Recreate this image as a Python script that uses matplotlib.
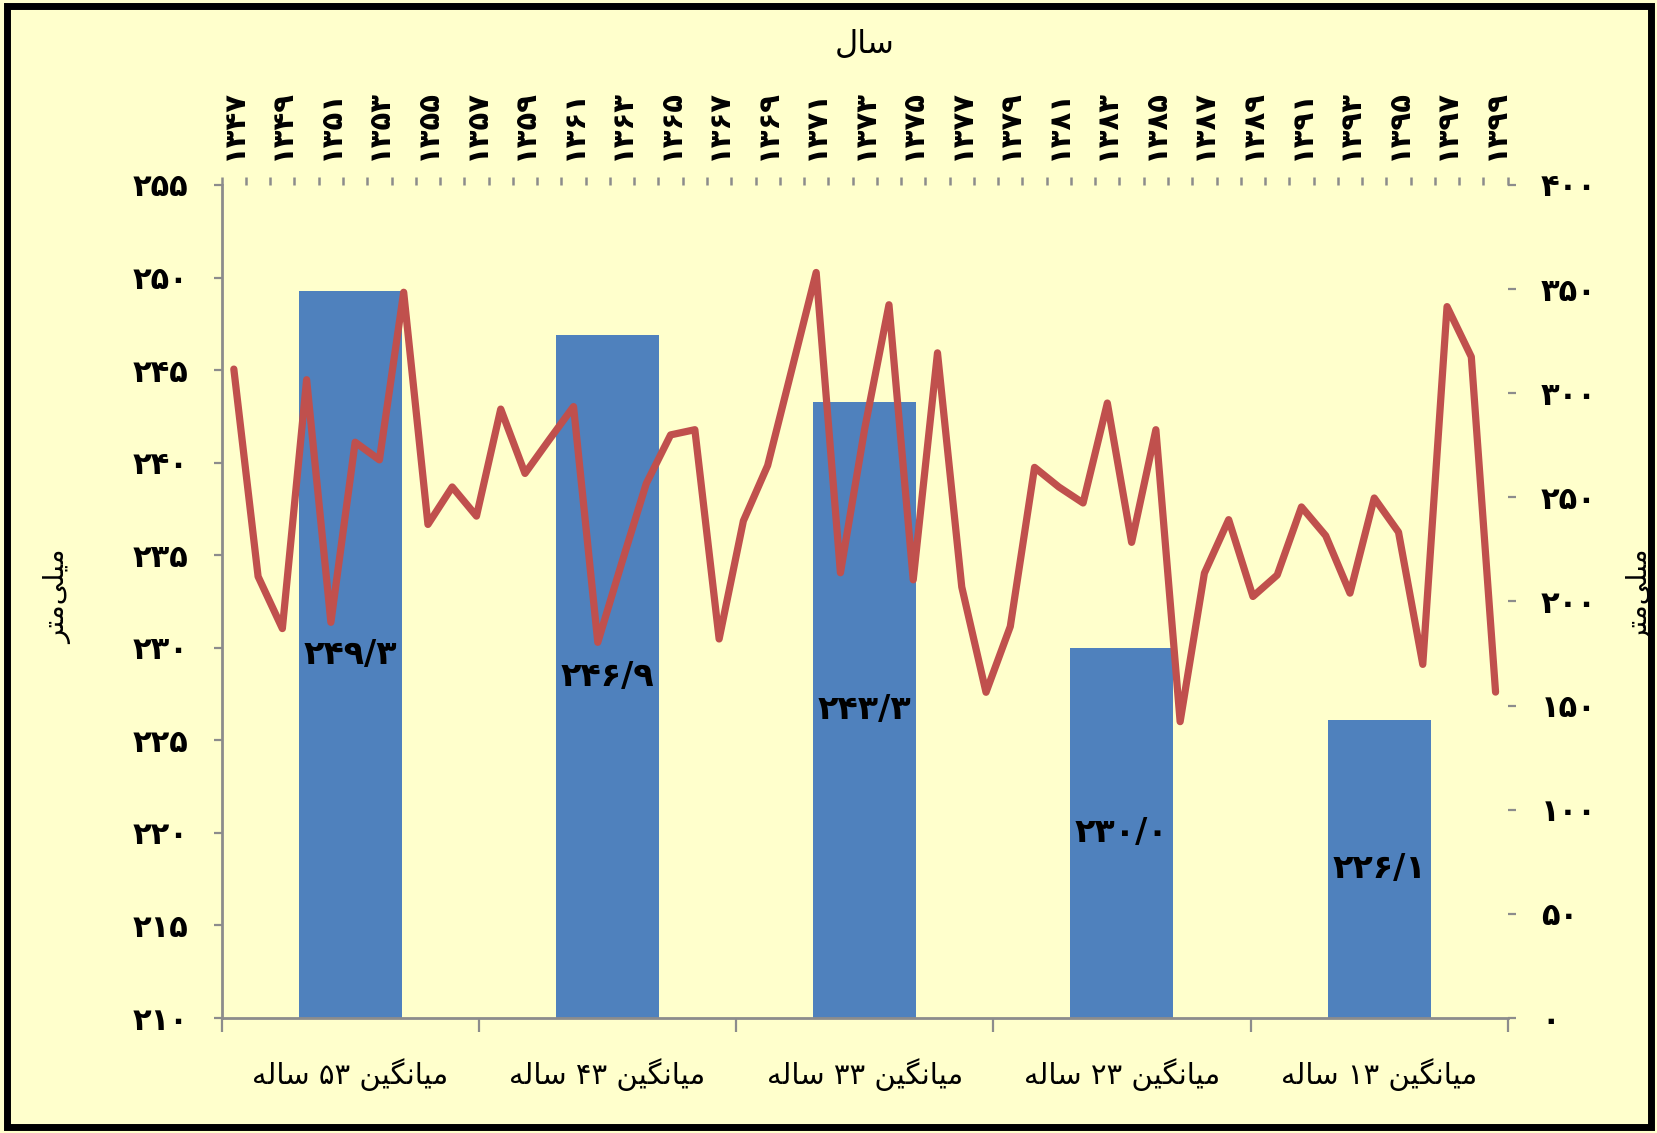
import re
import matplotlib
matplotlib.use("Agg")
import matplotlib.pyplot as plt
from matplotlib.patches import Rectangle
import matplotlib.transforms as mtrans

# ---------------- data ----------------
categories = ["میانگین ۵۳ ساله", "میانگین ۴۳ ساله", "میانگین ۳۳ ساله",
              "میانگین ۲۳ ساله", "میانگین ۱۳ ساله"]
bar_values = [249.3, 246.9, 243.3, 230.0, 226.1]

years = list(range(1347, 1400))
rainfall = [311.6, 212.0, 187.0, 306.5, 190.0, 276.5, 268.0, 348.5, 237.0, 255.0,
            241.0, 292.4, 261.5, 277.7, 293.6, 180.4, 219.0, 256.7, 280.0, 282.5,
            182.0, 238.7, 265.3, 311.6, 358.0, 213.8, 283.0, 342.5, 210.4, 319.4,
            207.0, 156.4, 188.0, 264.4, 255.0, 247.3, 295.3, 228.4, 282.5, 142.3,
            213.6, 239.3, 202.4, 212.7, 245.4, 231.6, 204.0, 249.7, 233.3, 169.8,
            341.6, 317.5, 156.5]

left_ticks = list(range(210, 256, 5))
right_ticks = list(range(0, 401, 50))
title_text = "سال"
unit_text = "میلی\u200cمتر"

# ---------------- Persian helpers ----------------
FA_DIGITS = str.maketrans("0123456789.", "۰۱۲۳۴۵۶۷۸۹/")

FORMS = {
    'ا': ('\uFE8D', '\uFE8E', None, None),
    'ر': ('\uFEAD', '\uFEAE', None, None),
    'ت': ('\uFE95', '\uFE96', '\uFE97', '\uFE98'),
    'س': ('\uFEB1', '\uFEB2', '\uFEB3', '\uFEB4'),
    'ل': ('\uFEDD', '\uFEDE', '\uFEDF', '\uFEE0'),
    'م': ('\uFEE1', '\uFEE2', '\uFEE3', '\uFEE4'),
    'ن': ('\uFEE5', '\uFEE6', '\uFEE7', '\uFEE8'),
    'ه': ('\uFEE9', '\uFEEA', '\uFEEB', '\uFEEC'),
    'گ': ('\uFB92', '\uFB93', '\uFB94', '\uFB95'),
    'ی': ('\uFBFC', '\uFBFD', '\uFBFE', '\uFBFF'),
}


def _dual(c):
    return c in FORMS and FORMS[c][2] is not None


def shape(s):
    out = []
    for i, c in enumerate(s):
        if c not in FORMS:
            out.append(c)
            continue
        prev = s[i - 1] if i > 0 else ''
        nxt = s[i + 1] if i + 1 < len(s) else ''
        jp = _dual(prev)
        jn = _dual(c) and (nxt in FORMS)
        iso, fin, ini, med = FORMS[c]
        out.append(med if (jp and jn) else fin if jp else ini if jn else iso)
    return ''.join(out).replace('\u200c', '')


def fa(s):
    s = shape(s)
    tokens = re.findall(r'[۰-۹0-9/]+|[^۰-۹0-9/]+', s)[::-1]
    return ''.join(t if re.match(r'[۰-۹0-9]', t) else t[::-1] for t in tokens)


def fnum(v):
    return str(v).translate(FA_DIGITS)


# ---------------- style ----------------
BG = '#FFFFCC'
BAR = '#4F81BD'
LINE = '#C0504D'
AXC = '#8C8C8C'
plt.rcParams['font.family'] = ['DejaVu Sans']

W, H = 1658, 1133
fig = plt.figure(figsize=(W / 100, H / 100), dpi=100, facecolor=BG)

x0, x1, y0, y1 = 221.7, 1507.7, 185, 1018
rect = [x0 / W, 1 - y1 / H, (x1 - x0) / W, (y1 - y0) / H]

ax = fig.add_axes(rect, facecolor=BG)
xs = list(range(len(categories)))
ax.bar(xs, [v - left_ticks[0] for v in bar_values], bottom=left_ticks[0],
       width=0.4, color=BAR, zorder=2)
ax.set_xlim(-0.5, len(categories) - 0.5)
ax.set_ylim(left_ticks[0], left_ticks[-1])
ax.set_yticks(left_ticks)
ax.set_yticklabels([fnum(t) for t in left_ticks], fontsize=22, fontweight='bold')
ax.set_xticks([i - 0.5 for i in range(len(categories) + 1)])
ax.set_xticklabels([])
ax.tick_params(axis='y', direction='out', length=6, width=1.6, color=AXC, pad=18)
ax.tick_params(axis='x', direction='out', length=10, width=1.6, color=AXC)
for sp in ['top', 'right']:
    ax.spines[sp].set_visible(False)
for sp in ['left', 'bottom']:
    ax.spines[sp].set_color(AXC)
    ax.spines[sp].set_linewidth(2)

for i, v in enumerate(bar_values):
    ax.text(i, (left_ticks[0] + v) / 2, fnum(v), ha='center', va='center',
            fontsize=24, fontweight='bold', color='black', zorder=3)

tr = mtrans.blended_transform_factory(ax.transData, ax.transAxes)
for i, c in enumerate(categories):
    ax.text(i, -0.068, fa(c), transform=tr, ha='center', va='center', fontsize=21)

# line axes (top x-axis years, right y-axis)
axl = fig.add_axes(rect, frameon=False)
axl.plot(range(len(years)), rainfall, color=LINE, lw=5.2, solid_joinstyle='round',
         solid_capstyle='round', zorder=4)
axl.set_xlim(-0.5, len(years) - 0.5)
axl.set_ylim(right_ticks[0], right_ticks[-1])
axl.yaxis.tick_right()
axl.xaxis.tick_top()
axl.set_yticks(right_ticks)
axl.set_yticklabels([fnum(t) for t in right_ticks], fontsize=22, fontweight='bold')
axl.set_xticks([i - 0.5 for i in range(len(years) + 1)])
axl.set_xticklabels([])
axl.set_xticks(list(range(0, len(years), 2)), minor=True)
axl.set_xticklabels([fnum(years[i]) for i in range(0, len(years), 2)], minor=True,
                    rotation=90, fontsize=21, fontweight='bold')
axl.tick_params(axis='x', which='major', direction='out', length=6, width=1.8, color=AXC)
axl.tick_params(axis='x', which='minor', length=0, pad=18)
axl.tick_params(axis='y', direction='out', length=6, width=1.6, color=AXC, pad=18)
axl.spines['top'].set_visible(True)
axl.spines['right'].set_visible(True)
axl.spines['top'].set_color(AXC)
axl.spines['right'].set_color(AXC)
axl.spines['top'].set_linewidth(2)
axl.spines['right'].set_linewidth(2)
axl.spines['left'].set_visible(False)
axl.spines['bottom'].set_visible(False)

fig.text(865 / W, 1 - 44 / H, fa(title_text), ha='center', va='center', fontsize=23)
fig.text(58 / W, 1 - 597 / H, fa(unit_text), ha='center', va='center', fontsize=20,
         rotation=90)
fig.text(1641 / W, 1 - 597 / H, fa(unit_text), ha='center', va='center', fontsize=20,
         rotation=90)

fig.patches.append(Rectangle((0.004, 0.005), 0.992, 0.99, transform=fig.transFigure,
                             fill=False, lw=5, ec='black'))

fig.savefig('out.png', dpi=100, facecolor=BG)
